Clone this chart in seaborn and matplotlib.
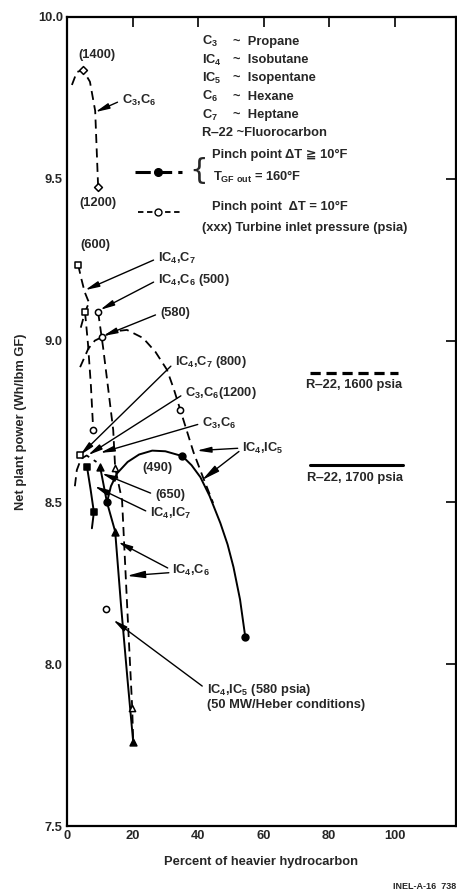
import matplotlib
matplotlib.use('Agg')
import matplotlib.pyplot as plt
import seaborn as sns

# =============================================================================
# Data (percent heavier hydrocarbon, net power Wh/lbm GF)
# =============================================================================

# dashed curves - pinch point dT = 10 F
c3c6_1400_x = [1.5, 3.0, 4.9, 7.0, 8.6, 9.5]
c3c6_1400_y = [9.79, 9.83, 9.836, 9.80, 9.71, 9.475]

ic4c7_600_x = [3.4, 4.4, 5.4, 6.4, 7.2]
ic4c7_600_y = [9.234, 9.19, 9.15, 9.125, 9.11]

ic4c7_arc_x = [4.2, 5.5, 6.4, 7.2]
ic4c7_arc_y = [9.04, 9.088, 9.11, 9.11]

ic4c7_drop_x = [5.5, 6.4, 7.3, 8.0]
ic4c7_drop_y = [9.088, 8.99, 8.86, 8.724]

ic4c6_500_x = [9.5, 11.0, 12.5, 14.1, 14.7, 16.8, 18.5, 19.9, 20.2]
ic4c6_500_y = [9.088, 8.98, 8.857, 8.724, 8.606, 8.507, 8.15, 7.865, 7.76]

ic4ic5_580_x = [4.0, 6.5, 8.5, 10.7, 14.0, 18.3, 23.2, 27.0, 30.5, 32.6,
                34.6, 36.6, 38.6, 41.6, 44.6]
ic4ic5_580_y = [8.918, 8.975, 9.0, 9.011, 9.028, 9.033, 9.008, 8.965, 8.91,
                8.85, 8.785, 8.72, 8.655, 8.575, 8.498]

base_arc_x = [2.4, 3.0, 4.3, 6.0, 9.0]
base_arc_y = [8.55, 8.60, 8.635, 8.645, 8.625]

# solid curves - pinch point dT >= 10 F, T GF out = 160 F
ic4ic5_490_x = [12.2, 13.4, 15.3, 18.5, 22.0, 26.0, 30.0, 35.2, 38.0, 40.7,
                43.5, 46.8, 49.0, 50.8, 52.8, 54.4]
ic4ic5_490_y = [8.50, 8.55, 8.59, 8.625, 8.648, 8.66, 8.658, 8.643, 8.615,
                8.578, 8.52, 8.436, 8.37, 8.30, 8.20, 8.084]

ic4c6_solid_x = [10.1, 12.2, 14.7, 16.5, 18.4, 20.2]
ic4c6_solid_y = [8.61, 8.50, 8.41, 8.18, 7.96, 7.76]

ic4ic7_solid_x = [6.1, 7.2, 8.2, 7.6]
ic4ic7_solid_y = [8.61, 8.54, 8.47, 8.42]

# R-22 reference levels
r22_1600_x = [74.3, 100.9]
r22_1600_y = [8.90, 8.90]
r22_1700_x = [74.3, 102.4]
r22_1700_y = [8.616, 8.616]

# point markers
open_diamond_x = [4.9, 9.5]
open_diamond_y = [9.836, 9.475]
open_square_x = [3.4, 5.5, 4.0]
open_square_y = [9.234, 9.088, 8.645]
open_circle_x = [9.5, 10.7, 34.6, 8.0, 11.9]
open_circle_y = [9.088, 9.011, 8.785, 8.724, 8.171]
open_tri_x = [14.7, 19.9]
open_tri_y = [8.606, 7.865]
filled_circle_x = [35.2, 54.4, 12.2]
filled_circle_y = [8.643, 8.084, 8.50]
filled_square_x = [6.1, 8.2]
filled_square_y = [8.61, 8.47]
filled_tri_x = [10.1, 14.7, 20.2]
filled_tri_y = [8.61, 8.41, 7.76]

# tick values
x_ticks = [0, 20, 40, 60, 80, 100]
y_ticks = [7.5, 8.0, 8.5, 9.0, 9.5, 10.0]

# =============================================================================
# Style
# =============================================================================
sns.set_theme(style='white')
plt.rcParams['font.family'] = ['Liberation Sans', 'DejaVu Sans']
plt.rcParams['font.weight'] = 'bold'
plt.rcParams['axes.labelweight'] = 'bold'
plt.rcParams['mathtext.fontset'] = 'custom'
plt.rcParams['mathtext.rm'] = 'Liberation Sans:bold'
plt.rcParams['mathtext.it'] = 'Liberation Sans:bold'
plt.rcParams['mathtext.bf'] = 'Liberation Sans:bold'
plt.rcParams['mathtext.default'] = 'rm'

FS = 9.3
DASH = (0, (5, 3))

fig = plt.figure(figsize=(4.57, 8.96), dpi=100)
ax = fig.add_axes([67 / 457, 70 / 896, 389 / 457, 809 / 896])

dashed_curves = [(c3c6_1400_x, c3c6_1400_y), (ic4c7_600_x, ic4c7_600_y),
                 (ic4c7_arc_x, ic4c7_arc_y), (ic4c7_drop_x, ic4c7_drop_y),
                 (ic4c6_500_x, ic4c6_500_y), (ic4ic5_580_x, ic4ic5_580_y),
                 (base_arc_x, base_arc_y)]
solid_curves = [(ic4ic5_490_x, ic4ic5_490_y), (ic4c6_solid_x, ic4c6_solid_y),
                (ic4ic7_solid_x, ic4ic7_solid_y)]

for cx, cy in dashed_curves:
    sns.lineplot(x=cx, y=cy, sort=False, estimator=None, ax=ax, color='black',
                 linewidth=1.3, linestyle=DASH)
for cx, cy in solid_curves:
    sns.lineplot(x=cx, y=cy, sort=False, estimator=None, ax=ax, color='black',
                 linewidth=1.4)

# R-22 levels are drawn heavier
sns.lineplot(x=r22_1600_x, y=r22_1600_y, ax=ax, color='black', linewidth=2.3,
             linestyle=(0, (3.2, 1.8)))
sns.lineplot(x=r22_1700_x, y=r22_1700_y, ax=ax, color='black', linewidth=2.2)

marker_sets = [(open_diamond_x, open_diamond_y, 'D', 'white', 16),
               (open_square_x, open_square_y, 's', 'white', 18),
               (open_circle_x, open_circle_y, 'o', 'white', 20),
               (open_tri_x, open_tri_y, '^', 'white', 20),
               (filled_circle_x, filled_circle_y, 'o', 'black', 24),
               (filled_square_x, filled_square_y, 's', 'black', 24),
               (filled_tri_x, filled_tri_y, '^', 'black', 24)]
for mx, my, mk, fc, sz in marker_sets:
    sns.scatterplot(x=mx, y=my, marker=mk, color=fc, edgecolor='black',
                    linewidth=1.1, s=sz, ax=ax, zorder=4)

# =============================================================================
# Labels and arrows
# =============================================================================
arrow = dict(arrowstyle='-|>,head_length=0.9,head_width=0.18', color='black',
             lw=1.0, shrinkA=1, shrinkB=0, relpos=(0, 0.5))

notes = [('C$_3$,C$_6$', (16.8, 9.743), (8.6, 9.706)),
         ('IC$_4$,C$_7$', (27.8, 9.255), (5.5, 9.156)),
         ('IC$_4$,C$_6$ (500)', (27.8, 9.188), (10.1, 9.095)),
         ('(580)', (28.4, 9.085), (11.0, 9.014)),
         ('IC$_4$,C$_7$ (800)', (33.0, 8.934), (4.0, 8.646)),
         ('C$_3$,C$_6$(1200)', (36.1, 8.838), (6.4, 8.646)),
         ('C$_3$,C$_6$', (41.3, 8.745), (10.1, 8.653)),
         ('IC$_4$,IC$_5$', (53.5, 8.668), (39.6, 8.66)),
         ('(650)', (26.9, 8.523), (10.6, 8.59)),
         ('IC$_4$,IC$_7$', (25.4, 8.467), (8.4, 8.55)),
         ('IC$_4$,C$_6$', (32.1, 8.29), (15.6, 8.378))]
for txt, pos, tip in notes:
    ax.annotate(txt, xy=tip, xytext=pos, ha='left', va='center', fontsize=FS,
                arrowprops=arrow)

# second arrows from the same labels
ax.annotate('', xy=(41.2, 8.569), xytext=(52.8, 8.660), arrowprops=arrow)
ax.annotate('', xy=(18.3, 8.273), xytext=(31.5, 8.283), arrowprops=arrow)

ax.annotate('IC$_4$,IC$_5$ (580 psia)\n(50 MW/Heber conditions)',
            xy=(14.1, 8.137), xytext=(42.6, 7.945), ha='left', va='top',
            fontsize=FS, linespacing=1.15,
            arrowprops=dict(arrow, relpos=(0, 0.75)))

for txt, pos in [('(1400)', (9.2, 9.883)), ('(1200)', (9.5, 9.425)),
                 ('(600)', (8.6, 9.295)), ('(490)', (27.5, 8.606))]:
    ax.text(pos[0], pos[1], txt, ha='center', va='center', fontsize=FS)

ax.text(87.5, 8.862, 'R\u201222, 1600 psia', ha='center', va='center', fontsize=FS)
ax.text(87.8, 8.574, 'R\u201222, 1700 psia', ha='center', va='center', fontsize=FS)

# key block
key_names = ['C$_3$', 'IC$_4$', 'IC$_5$', 'C$_6$', 'C$_7$']
key_words = ['~  Propane', '~  Isobutane', '~  Isopentane', '~  Hexane',
             '~  Heptane']
key_y = [9.923, 9.867, 9.81, 9.753, 9.697]
for nm, wd, yy in zip(key_names, key_words, key_y):
    ax.text(41.3, yy, nm, ha='left', va='center', fontsize=FS)
    ax.text(50.6, yy, wd, ha='left', va='center', fontsize=FS)
ax.text(41.3, 9.642, 'R\u201222 ~Fluorocarbon', ha='left', va='center',
        fontsize=FS)

# legend samples
ax.plot([0.175, 0.296], [0.808, 0.808], transform=ax.transAxes, color='black',
        lw=2.2, dashes=(5, 2))
ax.plot([0.235], [0.808], transform=ax.transAxes, marker='o', color='black',
        ms=5.5)
ax.text(0.338, 0.810, '{', transform=ax.transAxes, ha='center', va='center',
        fontsize=21, fontweight='normal', family='DejaVu Sans')
ax.text(0.374, 0.829, 'Pinch point \u0394T \u2267 10\u00b0F',
        transform=ax.transAxes, ha='left', va='center', fontsize=FS)
ax.text(0.376, 0.802, 'T$_{GF\\ out}$ = 160\u00b0F', transform=ax.transAxes,
        ha='left', va='center', fontsize=FS)

ax.plot([0.183, 0.296], [0.759, 0.759], transform=ax.transAxes, color='black',
        lw=1.3, dashes=(3, 2))
ax.plot([0.235], [0.759], transform=ax.transAxes, marker='o', color='black',
        mfc='white', ms=5)
ax.text(0.374, 0.765, 'Pinch point  \u0394T = 10\u00b0F', transform=ax.transAxes,
        ha='left', va='center', fontsize=FS)
ax.text(0.348, 0.739, '(xxx) Turbine inlet pressure (psia)',
        transform=ax.transAxes, ha='left', va='center', fontsize=FS)

# =============================================================================
# Axes
# =============================================================================
ax.set_xlim(0, 118.7)
ax.set_ylim(7.5, 10.0)
ax.set_xticks(x_ticks)
ax.set_yticks(y_ticks)
ax.set_xticklabels([str(t) for t in x_ticks], fontsize=FS)
ax.set_yticklabels(['%.1f' % t for t in y_ticks], fontsize=FS)
ax.tick_params(direction='in', length=7, width=1.2, top=True, right=True,
               pad=3, color='black')
for sp in ax.spines.values():
    sp.set_color('black')
    sp.set_linewidth(1.6)
ax.set_xlabel('Percent of heavier hydrocarbon', fontsize=FS, labelpad=10,
              fontweight='bold')
ax.set_ylabel('Net plant power (Wh/lbm GF)', fontsize=FS, labelpad=8,
              fontweight='bold')

fig.text(0.998, 0.006, 'INEL-A-16  738', ha='right', va='bottom', fontsize=6.5)

plt.savefig('out.png', dpi=100)
